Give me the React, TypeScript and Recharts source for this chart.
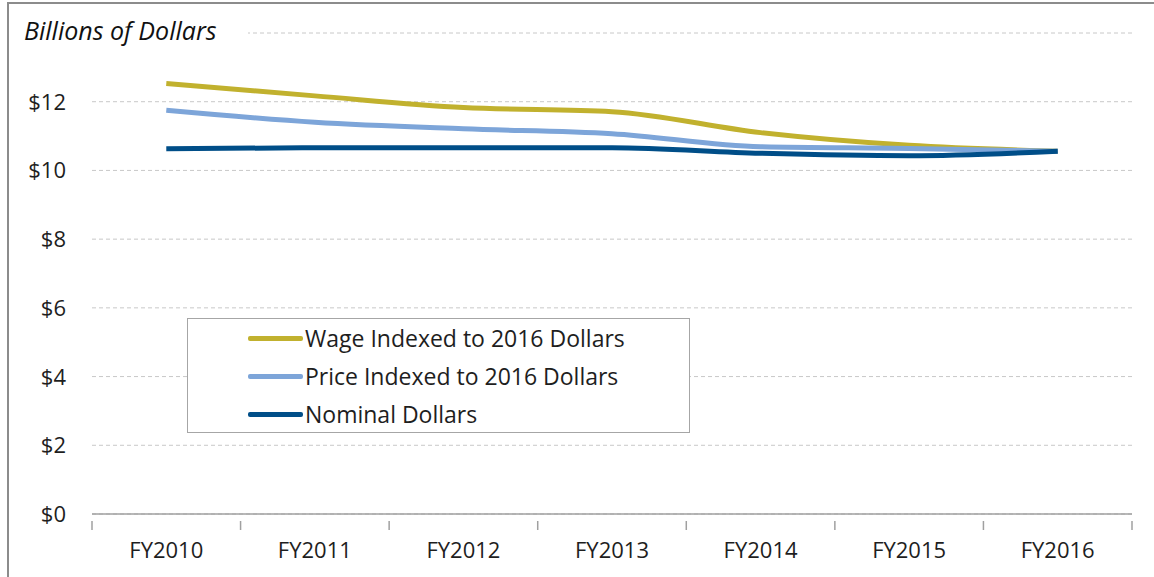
import React from "react";
import { LineChart, Line, XAxis, YAxis, CartesianGrid, Legend } from "recharts";

const categories = ["FY2010", "FY2011", "FY2012", "FY2013", "FY2014", "FY2015", "FY2016"];
const wageIndexed = [12.53, 12.17, 11.83, 11.71, 11.1, 10.73, 10.56];
const priceIndexed = [11.75, 11.4, 11.21, 11.07, 10.69, 10.64, 10.56];
const nominal = [10.63, 10.66, 10.66, 10.66, 10.5, 10.43, 10.56];
const yTicks = [0, 2, 4, 6, 8, 10, 12, 14];

const seriesNames = {
  wage: "Wage Indexed to 2016 Dollars",
  price: "Price Indexed to 2016 Dollars",
  nominal: "Nominal Dollars",
};
const legendOrder = [seriesNames.wage, seriesNames.price, seriesNames.nominal];

const data = categories.map((c, i) => ({
  cat: c,
  wage: wageIndexed[i],
  price: priceIndexed[i],
  nominal: nominal[i],
}));

const W = 1154;
const H = 577;
const MARGIN = { top: 33, right: 22, bottom: 23, left: 32 };
const YAXIS_W = 60;
const PLOT_LEFT = MARGIN.left + YAXIS_W;
const PLOT_W = W - PLOT_LEFT - MARGIN.right;
const BAND = PLOT_W / categories.length;
const FONT = "'Open Sans', Lato, sans-serif";
const AXIS_COLOR = "#a0a0a0";
const TEXT_COLOR = "#1e1e1e";

const XTick = (props: any) => {
  const { x, y, payload, index } = props;
  const left = x - BAND / 2;
  const isLast = index === categories.length - 1;
  return (
    <g>
      <line x1={left} x2={left} y1={y - 1} y2={y + 8} stroke={AXIS_COLOR} strokeWidth={1.5} />
      {isLast && (
        <line x1={left + BAND} x2={left + BAND} y1={y - 1} y2={y + 8} stroke={AXIS_COLOR} strokeWidth={1.5} />
      )}
      <text x={x} y={y + 36} textAnchor="middle" fontSize={22} fill={TEXT_COLOR} fontFamily={FONT}>
        {payload.value}
      </text>
    </g>
  );
};

const YTick = (props: any) => {
  const { x, y, payload } = props;
  if (payload.value === 14) return null;
  return (
    <text x={x} y={y + 8} textAnchor="end" fontSize={22} fill={TEXT_COLOR} fontFamily={FONT}>
      {"$" + payload.value}
    </text>
  );
};

const LegendBox = (props: any) => {
  const payload = [...(props.payload || [])].sort(
    (a: any, b: any) => legendOrder.indexOf(a.value) - legendOrder.indexOf(b.value)
  );
  return (
    <div
      style={{
        width: 503,
        height: 115,
        border: "1px solid #a6a6a6",
        background: "#fff",
        boxSizing: "border-box",
        paddingTop: 0,
        fontFamily: FONT,
      }}
    >
      {payload.map((p: any) => (
        <div key={p.value} style={{ display: "flex", alignItems: "center", height: 38, marginLeft: 60 }}>
          <div style={{ width: 55, height: 5, background: p.color, borderRadius: 2 }} />
          <span style={{ fontSize: 23, color: TEXT_COLOR, marginLeft: 2, lineHeight: "38px" }}>{p.value}</span>
        </div>
      ))}
    </div>
  );
};

export default function App() {
  return (
    <div style={{ position: "absolute", left: 0, top: 0, width: W, height: H, background: "#fff" }}>
      <div
        style={{
          position: "absolute",
          left: 7,
          top: 2,
          right: 0,
          bottom: 0,
          borderTop: "2px solid #8c8c8c",
          borderLeft: "2px solid #8c8c8c",
        }}
      />
      <LineChart width={W} height={H} data={data} margin={MARGIN}>
        <CartesianGrid vertical={false} stroke="#c8c8c8" strokeDasharray="4 3" />
        <XAxis
          dataKey="cat"
          scale="band"
          height={40}
          axisLine={{ stroke: AXIS_COLOR, strokeWidth: 1.5 }}
          tickLine={false}
          tick={<XTick />}
          interval={0}
        />
        <YAxis
          width={YAXIS_W}
          domain={[0, 14]}
          ticks={yTicks}
          axisLine={false}
          tickLine={false}
          tickSize={0}
          tickMargin={26}
          tick={<YTick />}
          interval={0}
        />
        <Legend
          layout="horizontal"
          verticalAlign="middle"
          align="center"
          content={<LegendBox />}
          wrapperStyle={{ position: "absolute", left: 187, top: 318, width: 503 }}
        />
        <Line
          type="monotone"
          dataKey="wage"
          name={seriesNames.wage}
          stroke="#C1B12E"
          strokeWidth={5}
          dot={false}
          isAnimationActive={false}
        />
        <Line
          type="monotone"
          dataKey="price"
          name={seriesNames.price}
          stroke="#7DA5D9"
          strokeWidth={5}
          dot={false}
          isAnimationActive={false}
        />
        <Line
          type="monotone"
          dataKey="nominal"
          name={seriesNames.nominal}
          stroke="#004E88"
          strokeWidth={5}
          dot={false}
          isAnimationActive={false}
        />
      </LineChart>
      <div
        style={{
          position: "absolute",
          left: 12,
          top: 14,
          width: 236,
          paddingLeft: 12,
          boxSizing: "border-box",
          background: "#fff",
          fontFamily: FONT,
          fontStyle: "italic",
          fontSize: 25,
          lineHeight: "32px",
          color: "#111",
          whiteSpace: "nowrap",
        }}
      >
        Billions of Dollars
      </div>
    </div>
  );
}
